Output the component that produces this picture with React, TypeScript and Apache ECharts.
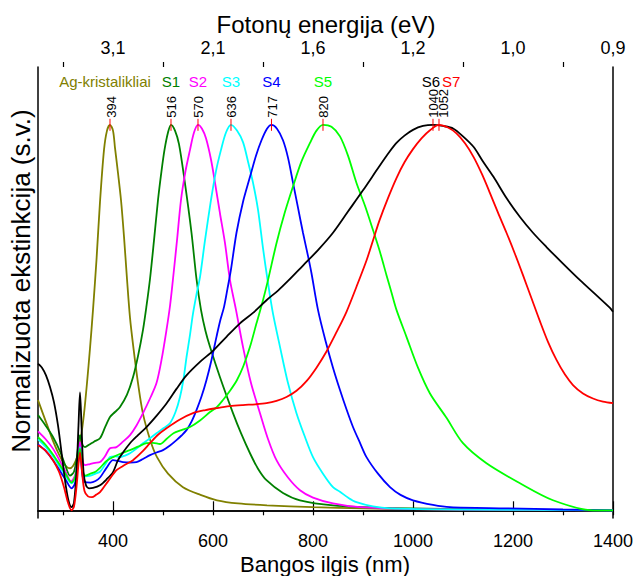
import React, { useEffect, useRef } from "react";
import * as echarts from "echarts";

const FONT = '"Liberation Sans", Arial, sans-serif';

const xMajorTicks = [400, 600, 800, 1000, 1200, 1400];
const xAllTicks = [300, 400, 500, 600, 700, 800, 900, 1000, 1100, 1200, 1300, 1400];
const xMinorTicks = [300, 500, 700, 900, 1100, 1300];
const bottomTickLabels = ["400", "600", "800", "1000", "1200", "1400"];
const topTickLabels = ["3,1", "2,1", "1,6", "1,2", "1,0", "0,9"];

const seriesNames = ["Ag-kristalikliai", "S1", "S2", "S3", "S4", "S5", "S6", "S7"];
const seriesColors = ["#808000", "#008000", "#ff00ff", "#00ffff", "#0000ff", "#00ff00", "#000000", "#ff0000"];
const peakWavelengths = [394, 516, 570, 636, 717, 820, 1040, 1052];

const agData = [[250,0.286],[260,0.25],[270,0.215],[280,0.18],[290,0.15],[300,0.125],[308,0.112],[314,0.109],[320,0.115],[326,0.13],[331,0.15],[336,0.19],[342,0.25],[348,0.33],[354,0.42],[360,0.52],[367,0.65],[374,0.8],[382,0.935],[388,0.985],[394,1.0],[400,0.985],[404,0.94],[410,0.875],[416,0.805],[422,0.71],[428,0.6],[434,0.5],[441,0.42],[450,0.33],[460,0.25],[475,0.18],[488,0.138],[510,0.095],[540,0.06],[575,0.04],[608,0.026],[650,0.018],[708,0.013],[800,0.008],[900,0.005],[1000,0.003],[1100,0.002]];

const s1Data = [[250,0.247],[265,0.22],[280,0.19],[295,0.15],[305,0.115],[314,0.09],[322,0.1],[328,0.14],[334,0.195],[339,0.17],[344,0.164],[352,0.17],[362,0.178],[374,0.187],[384,0.215],[394,0.242],[404,0.255],[414,0.268],[428,0.3],[440,0.345],[450,0.4],[460,0.468],[467,0.53],[474,0.6],[482,0.7],[490,0.805],[497,0.88],[503,0.935],[510,0.98],[516,1.0],[524,0.985],[532,0.95],[543,0.857],[557,0.72],[567,0.6],[576,0.52],[585,0.465],[594,0.424],[614,0.345],[640,0.252],[656,0.2],[674,0.148],[690,0.108],[707,0.078],[740,0.045],[774,0.026],[840,0.013],[950,0.006],[1100,0.003],[1250,0.001],[1400,0.0]];

const s2Data = [[250,0.205],[265,0.185],[280,0.16],[295,0.125],[305,0.1],[316,0.075],[324,0.09],[329,0.13],[334,0.177],[339,0.13],[344,0.117],[354,0.12],[364,0.123],[374,0.125],[384,0.14],[394,0.161],[407,0.164],[420,0.178],[434,0.195],[447,0.22],[460,0.252],[474,0.29],[487,0.33],[497,0.39],[507,0.468],[514,0.53],[520,0.6],[528,0.7],[536,0.805],[545,0.88],[554,0.935],[562,0.98],[570,1.0],[578,0.99],[586,0.965],[596,0.91],[604,0.85],[614,0.77],[624,0.693],[634,0.597],[646,0.52],[660,0.424],[676,0.33],[694,0.252],[710,0.185],[727,0.13],[750,0.085],[774,0.052],[800,0.033],[840,0.018],[894,0.008],[1000,0.003],[1200,0.001],[1400,0.0]];

const s3Data = [[250,0.184],[265,0.165],[280,0.14],[295,0.11],[305,0.09],[317,0.07],[324,0.085],[329,0.12],[334,0.164],[339,0.1],[344,0.088],[355,0.09],[365,0.095],[374,0.1],[385,0.12],[394,0.138],[404,0.14],[414,0.138],[424,0.142],[434,0.148],[447,0.16],[460,0.174],[474,0.187],[487,0.2],[500,0.212],[514,0.226],[525,0.255],[534,0.294],[541,0.34],[547,0.397],[554,0.455],[560,0.51],[567,0.56],[574,0.605],[584,0.7],[596,0.805],[606,0.88],[616,0.935],[626,0.98],[636,1.0],[648,0.985],[660,0.955],[670,0.905],[680,0.85],[690,0.78],[700,0.68],[710,0.59],[720,0.51],[734,0.424],[750,0.33],[767,0.252],[784,0.19],[800,0.138],[820,0.095],[840,0.06],[854,0.048],[870,0.033],[887,0.021],[920,0.01],[954,0.005],[1100,0.002],[1400,0.0]];

const s4Data = [[250,0.171],[265,0.155],[280,0.13],[295,0.1],[305,0.08],[317,0.057],[324,0.07],[329,0.11],[334,0.156],[339,0.09],[344,0.073],[355,0.072],[365,0.076],[374,0.085],[387,0.11],[400,0.13],[410,0.128],[420,0.125],[434,0.124],[447,0.125],[460,0.133],[474,0.143],[487,0.15],[500,0.156],[514,0.168],[527,0.182],[537,0.194],[547,0.208],[557,0.23],[567,0.26],[577,0.295],[587,0.338],[597,0.39],[607,0.45],[614,0.49],[622,0.527],[629,0.575],[636,0.625],[647,0.72],[660,0.8],[674,0.865],[686,0.92],[697,0.96],[708,0.99],[717,1.0],[728,0.99],[740,0.96],[750,0.915],[760,0.85],[770,0.785],[780,0.72],[790,0.66],[797,0.615],[810,0.52],[825,0.44],[840,0.37],[854,0.312],[867,0.262],[880,0.216],[894,0.175],[907,0.138],[930,0.095],[954,0.06],[975,0.04],[1000,0.026],[1040,0.014],[1074,0.008],[1187,0.005],[1300,0.002],[1400,0.0]];

const s5Data = [[250,0.19],[265,0.17],[280,0.145],[295,0.115],[305,0.095],[317,0.072],[324,0.085],[329,0.12],[334,0.16],[339,0.105],[344,0.09],[355,0.095],[365,0.1],[374,0.11],[387,0.128],[400,0.138],[417,0.148],[434,0.156],[450,0.165],[467,0.174],[480,0.175],[494,0.172],[507,0.185],[521,0.2],[537,0.208],[554,0.216],[574,0.233],[594,0.255],[608,0.268],[620,0.286],[634,0.31],[648,0.338],[661,0.375],[674,0.424],[687,0.485],[700,0.545],[710,0.597],[727,0.693],[743,0.77],[760,0.84],[777,0.905],[794,0.953],[807,0.985],[820,1.0],[837,0.995],[854,0.97],[870,0.92],[887,0.849],[904,0.79],[920,0.727],[934,0.67],[947,0.61],[957,0.565],[967,0.52],[987,0.45],[1010,0.37],[1034,0.303],[1067,0.24],[1100,0.174],[1147,0.122],[1214,0.07],[1280,0.026],[1360,0.0],[1400,0.0]];

const s6Data = [[250,0.38],[258,0.37],[266,0.35],[274,0.32],[282,0.28],[290,0.22],[298,0.14],[306,0.06],[312,0.02],[317,0.008],[322,0.02],[327,0.1],[331,0.22],[334,0.306],[337,0.22],[341,0.1],[346,0.065],[352,0.057],[360,0.058],[374,0.065],[387,0.08],[400,0.099],[410,0.13],[420,0.15],[434,0.174],[450,0.195],[467,0.216],[487,0.245],[507,0.277],[527,0.315],[547,0.35],[574,0.385],[601,0.415],[627,0.45],[654,0.485],[680,0.512],[707,0.545],[730,0.57],[750,0.595],[780,0.635],[810,0.675],[840,0.72],[870,0.775],[900,0.83],[933,0.893],[953,0.93],[967,0.953],[983,0.972],[1000,0.987],[1020,0.997],[1040,1.0],[1060,0.997],[1081,0.99],[1100,0.97],[1121,0.943],[1140,0.905],[1161,0.865],[1187,0.81],[1214,0.761],[1240,0.72],[1267,0.683],[1300,0.64],[1334,0.597],[1365,0.56],[1394,0.525],[1400,0.515]];

const s7Data = [[250,0.169],[265,0.155],[280,0.13],[292,0.1],[302,0.06],[310,0.02],[317,0.0],[322,0.01],[327,0.06],[331,0.12],[334,0.15],[338,0.1],[343,0.05],[350,0.036],[358,0.034],[366,0.04],[374,0.047],[390,0.075],[407,0.104],[420,0.115],[440,0.13],[457,0.15],[474,0.174],[490,0.196],[507,0.213],[533,0.235],[560,0.252],[585,0.26],[607,0.265],[633,0.27],[660,0.273],[685,0.275],[707,0.278],[727,0.284],[747,0.294],[767,0.31],[787,0.335],[807,0.37],[827,0.412],[847,0.462],[867,0.515],[887,0.58],[907,0.648],[920,0.7],[933,0.752],[950,0.81],[967,0.862],[983,0.903],[1000,0.937],[1017,0.965],[1034,0.986],[1052,1.0],[1070,0.993],[1087,0.978],[1104,0.952],[1121,0.917],[1138,0.872],[1154,0.823],[1170,0.772],[1187,0.72],[1204,0.665],[1220,0.61],[1237,0.55],[1254,0.49],[1270,0.437],[1287,0.39],[1304,0.352],[1320,0.325],[1340,0.303],[1360,0.29],[1380,0.282],[1400,0.278]];

const allData = [agData, s1Data, s2Data, s3Data, s4Data, s5Data, s6Data, s7Data];

export default function App() {
  const ref = useRef<HTMLDivElement>(null);
  useEffect(() => {
    const chart = echarts.init(ref.current!, null, { renderer: "svg" });

    const baseX = {
      type: "value",
      min: 250,
      max: 1400,
      splitLine: { show: false },
    };

    const lineSeries = allData.map((d, i) => ({
      name: seriesNames[i],
      type: "line",
      data: d,
      showSymbol: false,
      smooth: 0.3,
      xAxisIndex: 0,
      yAxisIndex: 0,
      lineStyle: { color: seriesColors[i], width: 1.8 },
      itemStyle: { color: seriesColors[i] },
      z: 2,
    }));

    const labelDx = [-5, 0, 0, 0, 0, 0, 7, 3];
    const labelAlign = ["center", "center", "center", "center", "center", "center", "right", "left"];
    const peakDx = [2, 1, 1, 1, 1, 1, 1, 5];

    const peakSeries = {
      type: "custom",
      xAxisIndex: 0,
      yAxisIndex: 0,
      z: 5,
      data: peakWavelengths.map((w, i) => [w, 1, i]),
      renderItem: (params: any, api: any) => {
        const w = api.value(0);
        const i = api.value(2);
        const p = api.coord([w, api.value(1)]);
        return {
          type: "group",
          children: [
            {
              type: "line",
              shape: { x1: p[0], y1: p[1] - 6, x2: p[0], y2: p[1] + 6 },
              style: { stroke: "#ff0000", lineWidth: 1 },
            },
            {
              type: "text",
              x: p[0] + peakDx[i],
              y: p[1] - 7,
              rotation: Math.PI / 2,
              style: {
                text: String(w),
                fill: "#000",
                fontSize: 13,
                fontFamily: FONT,
                align: "left",
                verticalAlign: "middle",
                textAlign: "left",
                textVerticalAlign: "middle",
              },
            },
            {
              type: "text",
              x: p[0] + labelDx[i],
              y: api.coord([w, 1.113])[1],
              style: {
                text: seriesNames[i],
                fill: seriesColors[i],
                fontSize: 15,
                fontFamily: FONT,
                align: labelAlign[i],
                verticalAlign: "middle",
                textAlign: labelAlign[i],
                textVerticalAlign: "middle",
              },
            },
          ],
        };
      },
    };

    const option: any = {
      animation: false,
      backgroundColor: "#ffffff",
      textStyle: { fontFamily: FONT },
      grid: { left: 38, right: 23, top: 67, bottom: 58, containLabel: false },
      xAxis: [
        {
          ...baseX,
          position: "bottom",
          axisLine: { show: true, lineStyle: { color: "#000", width: 1.5 } },
          axisTick: { show: true, inside: false, length: 5, customValues: xAllTicks, lineStyle: { color: "#000", width: 1.2 } },
          axisLabel: {
            show: true,
            customValues: xMajorTicks,
            color: "#000",
            fontSize: 18,
            fontFamily: FONT,
            margin: 14,
            formatter: (v: number) => {
              const k = xMajorTicks.indexOf(Math.round(v));
              return k >= 0 ? bottomTickLabels[k] : "";
            },
          },
        },
        {
          ...baseX,
          position: "top",
          axisLine: { show: true, lineStyle: { color: "#000", width: 1.5 } },
          axisTick: { show: true, inside: false, length: 9, customValues: xMajorTicks, lineStyle: { color: "#000", width: 1.2 } },
          axisLabel: {
            show: true,
            customValues: xMajorTicks,
            color: "#000",
            fontSize: 18,
            fontFamily: FONT,
            margin: 10,
            formatter: (v: number) => {
              const k = xMajorTicks.indexOf(Math.round(v));
              return k >= 0 ? topTickLabels[k] : "";
            },
          },
        },
        {
          ...baseX,
          position: "top",
          axisLine: { show: false },
          axisTick: { show: true, inside: false, length: 5, customValues: xMinorTicks, lineStyle: { color: "#000", width: 1.2 } },
          axisLabel: { show: false },
        },
      ],
      yAxis: [
        {
          type: "value",
          min: -0.02,
          max: 1.15,
          position: "left",
          axisLine: { show: true, lineStyle: { color: "#000", width: 1.5 } },
          axisTick: { show: false },
          axisLabel: { show: false },
          splitLine: { show: false },
        },
        {
          type: "value",
          min: -0.02,
          max: 1.15,
          position: "right",
          axisLine: { show: true, lineStyle: { color: "#000", width: 1.5 } },
          axisTick: { show: false },
          axisLabel: { show: false },
          splitLine: { show: false },
        },
      ],
      graphic: [
        {
          type: "text",
          x: 326,
          y: 24,
          style: { text: "Fotonų energija (eV)", fill: "#000", font: `24px ${FONT}`, textAlign: "center", textVerticalAlign: "middle" },
        },
        {
          type: "text",
          x: 325,
          y: 564,
          style: { text: "Bangos ilgis (nm)", fill: "#000", font: `22px ${FONT}`, textAlign: "center", textVerticalAlign: "middle" },
        },
        {
          type: "text",
          x: 21,
          y: 281,
          rotation: Math.PI / 2,
          style: { text: "Normalizuota ekstinkcija (s.v.)", fill: "#000", font: `26px ${FONT}`, textAlign: "center", textVerticalAlign: "middle" },
        },
      ],
      series: [...lineSeries, peakSeries],
    };

    chart.setOption(option);
    return () => chart.dispose();
  }, []);

  return <div ref={ref} style={{ position: "fixed", left: 0, top: 0, width: 636, height: 576, background: "#fff" }} />;
}
